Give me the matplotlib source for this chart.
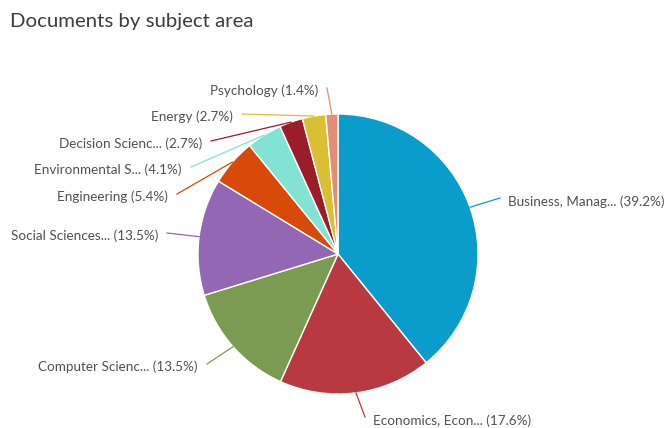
import numpy as np
import matplotlib.pyplot as plt

# Data
subjects = ["Business, Manag...", "Economics, Econ...", "Computer Scienc...",
            "Social Sciences...", "Engineering", "Environmental S...",
            "Decision Scienc...", "Energy", "Psychology"]
shares = [39.2, 17.6, 13.5, 13.5, 5.4, 4.1, 2.7, 2.7, 1.4]
colors = ["#0a9dcb", "#b83a40", "#7b9b52", "#9467b4", "#d74a0a",
          "#80e3d3", "#9b1d2a", "#d8bf34", "#e38d74"]

# label layout in pixel coords (x, y from top, alignment)
label_pos = [(508, 202, 'left'), (373, 421, 'left'), (198, 367, 'right'),
             (158, 236, 'right'), (168, 197, 'right'), (182, 170, 'right'),
             (202, 144, 'right'), (233, 117, 'right'), (318, 91, 'right')]

W, H = 668, 428
cx, cy, R = 338, 254, 140

fig = plt.figure(figsize=(W / 100, H / 100), dpi=100)
ax = fig.add_axes([0, 0, 1, 1])
ax.axis('off')

wedges, _ = ax.pie(shares, colors=colors, startangle=90, counterclock=False,
                   center=(cx, H - cy), radius=R,
                   wedgeprops=dict(edgecolor='white', linewidth=1))
ax.set_xlim(0, W)
ax.set_ylim(0, H)
ax.set_aspect('auto')

for w, name, val, (tx, ty, ha), c in zip(wedges, subjects, shares, label_pos, colors):
    mid = np.deg2rad((w.theta1 + w.theta2) / 2)
    px = cx + R * np.cos(mid)
    py = (H - cy) + R * np.sin(mid)
    if ha == 'right':
        ex, ey = tx + 9, H - ty + 3
    else:
        ex, ey = tx - 8, H - ty + 4
    ax.plot([px, ex], [py, ey], color=c, lw=0.9)
    ax.text(tx, H - ty, f"{name} ({val}%)", ha=ha, va='center',
            fontsize=9.7, color='#505050', family='Lato')

fig.text(10 / W, 1 - 21 / H, "Documents by subject area", fontsize=14.7,
         color='#3d3d3d', family='Lato', va='center', ha='left')

fig.savefig('out.png', dpi=100, facecolor='white')
